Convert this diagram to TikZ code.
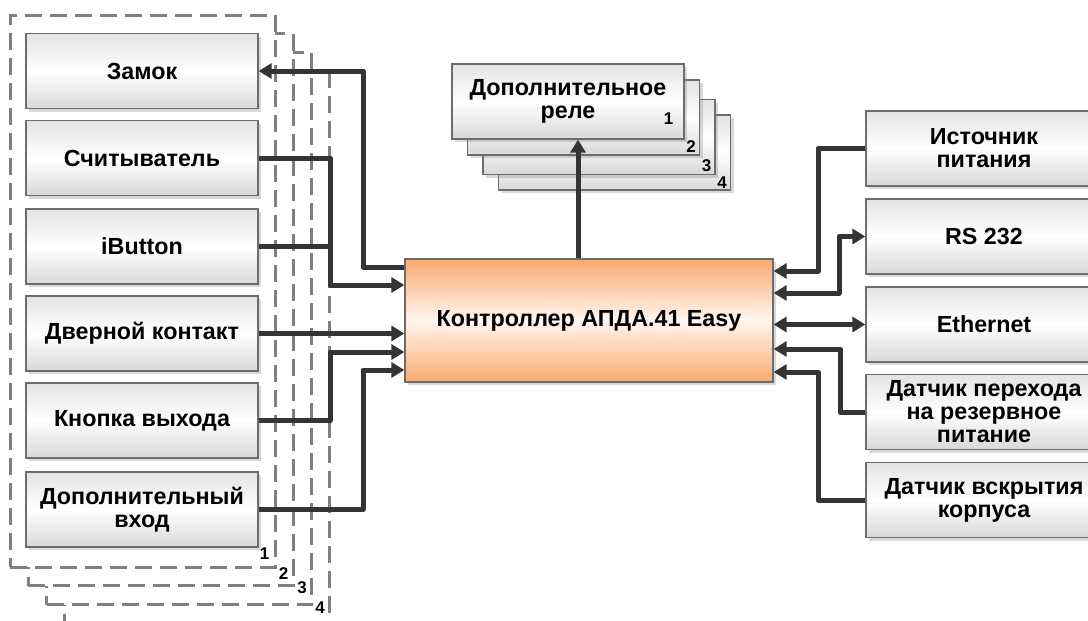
\documentclass[tikz,border=0pt]{standalone}
\usepackage{fontspec}
\setmainfont{Liberation Sans}
\usetikzlibrary{arrows.meta,shadows}
\definecolor{wirecol}{RGB}{52,52,52}
\definecolor{ctrltop}{RGB}{250,170,110}
\definecolor{ctrlmid}{RGB}{255,245,238}
\definecolor{framecol}{RGB}{128,128,128}

\begin{document}
\begin{tikzpicture}[x=1pt,y=-1pt,
  blok/.style={draw=gray!85!black,line width=1.3pt,top color=gray!22,bottom color=gray!30,middle color=white,
    minimum width=232pt,minimum height=75pt,align=center,inner sep=0pt,
    font=\bfseries\fontsize{23.3}{23}\selectfont,
    drop shadow={opacity=0.3,shadow xshift=3pt,shadow yshift=-3pt}},
  rblok/.style={blok,minimum width=236pt},
  kontroller/.style={blok,top color=ctrltop,bottom color=ctrltop,middle color=ctrlmid,
    minimum width=368pt,minimum height=123pt},
  ramka/.style={draw=framecol,line width=3pt,dash pattern=on 17pt off 8pt,fill=white,
    minimum width=265pt,minimum height=552pt,inner sep=0pt},
  nomer/.style={font=\bfseries\fontsize{17}{17}\selectfont,inner sep=0pt},
  wire/.style={line width=5pt,draw=wirecol,line join=round},
  >={Triangle[length=13pt,width=15pt]}]
\useasboundingbox (0,0) rectangle (1088,621);

\node[ramka] (f4) at (197,346.5) {};
\node[ramka] (f3) at (179,328.5) {};
\node[ramka] (f2) at (160.5,309.5) {};
\node[ramka] (f1) at (142.5,291) {};
\node[nomer] (fn1) at ([shift={(-12,-15)}]f1.south east) {1};
\node[nomer] (fn2) at ([shift={(-11,-13)}]f2.south east) {2};
\node[nomer] (fn3) at ([shift={(-11,-18)}]f3.south east) {3};
\node[nomer] (fn4) at ([shift={(-11,-16)}]f4.south east) {4};

\node[blok] (lock) at (142,71) {Замок};
\node[blok] (reader) at (142,158) {Считыватель};
\node[blok] (ibutton) at (142,246.5) {iButton};
\node[blok] (door) at (142,333.5) {Дверной контакт};
\node[blok] (exitbtn) at (142,420.5) {Кнопка выхода};
\node[blok] (auxin) at (142,509.5) {Дополнительный\\вход};

\node[blok] (r4) at (614.5,152.5) {};
\node[blok] (r3) at (599,137) {};
\node[blok] (r2) at (583.5,117.5) {};
\node[blok] (r1) at (568,101.5) {Дополнительное\\реле};
\node[nomer] (rn1) at ([shift={(-16,-21)}]r1.south east) {1};
\node[nomer] (rn2) at ([shift={(-9,-9)}]r2.south east) {2};
\node[nomer] (rn3) at ([shift={(-9,-9)}]r3.south east) {3};
\node[nomer] (rn4) at ([shift={(-9,-8)}]r4.south east) {4};

\node[kontroller] (ctrl) at (589,320.5) {Контроллер АПДА.41 Easy};

\node[rblok] (psu) at (984,148.5) {Источник\\питания};
\node[rblok] (rs) at (984,236.5) {RS 232};
\node[rblok] (eth) at (984,324.5) {Ethernet};
\node[rblok] (backup) at (984,412) {Датчик перехода\\на резервное\\питание};
\node[rblok] (tamper) at (984,500) {Датчик вскрытия\\корпуса};

\draw[wire,<-] (lock.east) -| (363,267) -- (ctrl.west |- 0,267);
\draw[wire,->] (reader.east) -| (330,285) -- (ctrl.west |- 0,285);
\draw[wire] (ibutton.east) -- (ibutton.east -| 330,0);
\draw[wire,->] (door.east) -- (ctrl.west |- door.east);
\draw[wire,->] (exitbtn.east) -| (330,352) -- (ctrl.west |- 0,352);
\draw[wire,->] (auxin.east) -| (363,370) -- (ctrl.west |- 0,370);
\draw[wire,->] (ctrl.north -| 578,0) -- (r1.south -| 578,0);
\draw[wire,->] (psu.west) -| (818,271) -- (ctrl.east |- 0,271);
\draw[wire,<->] (ctrl.east |- 0,293) -- (839,293) |- (rs.west);
\draw[wire,<->] (ctrl.east |- eth.west) -- (eth.west);
\draw[wire,->] (backup.west) -| (840,349) -- (ctrl.east |- 0,349);
\draw[wire,->] (tamper.west) -| (818,372) -- (ctrl.east |- 0,372);
\end{tikzpicture}
\end{document}
